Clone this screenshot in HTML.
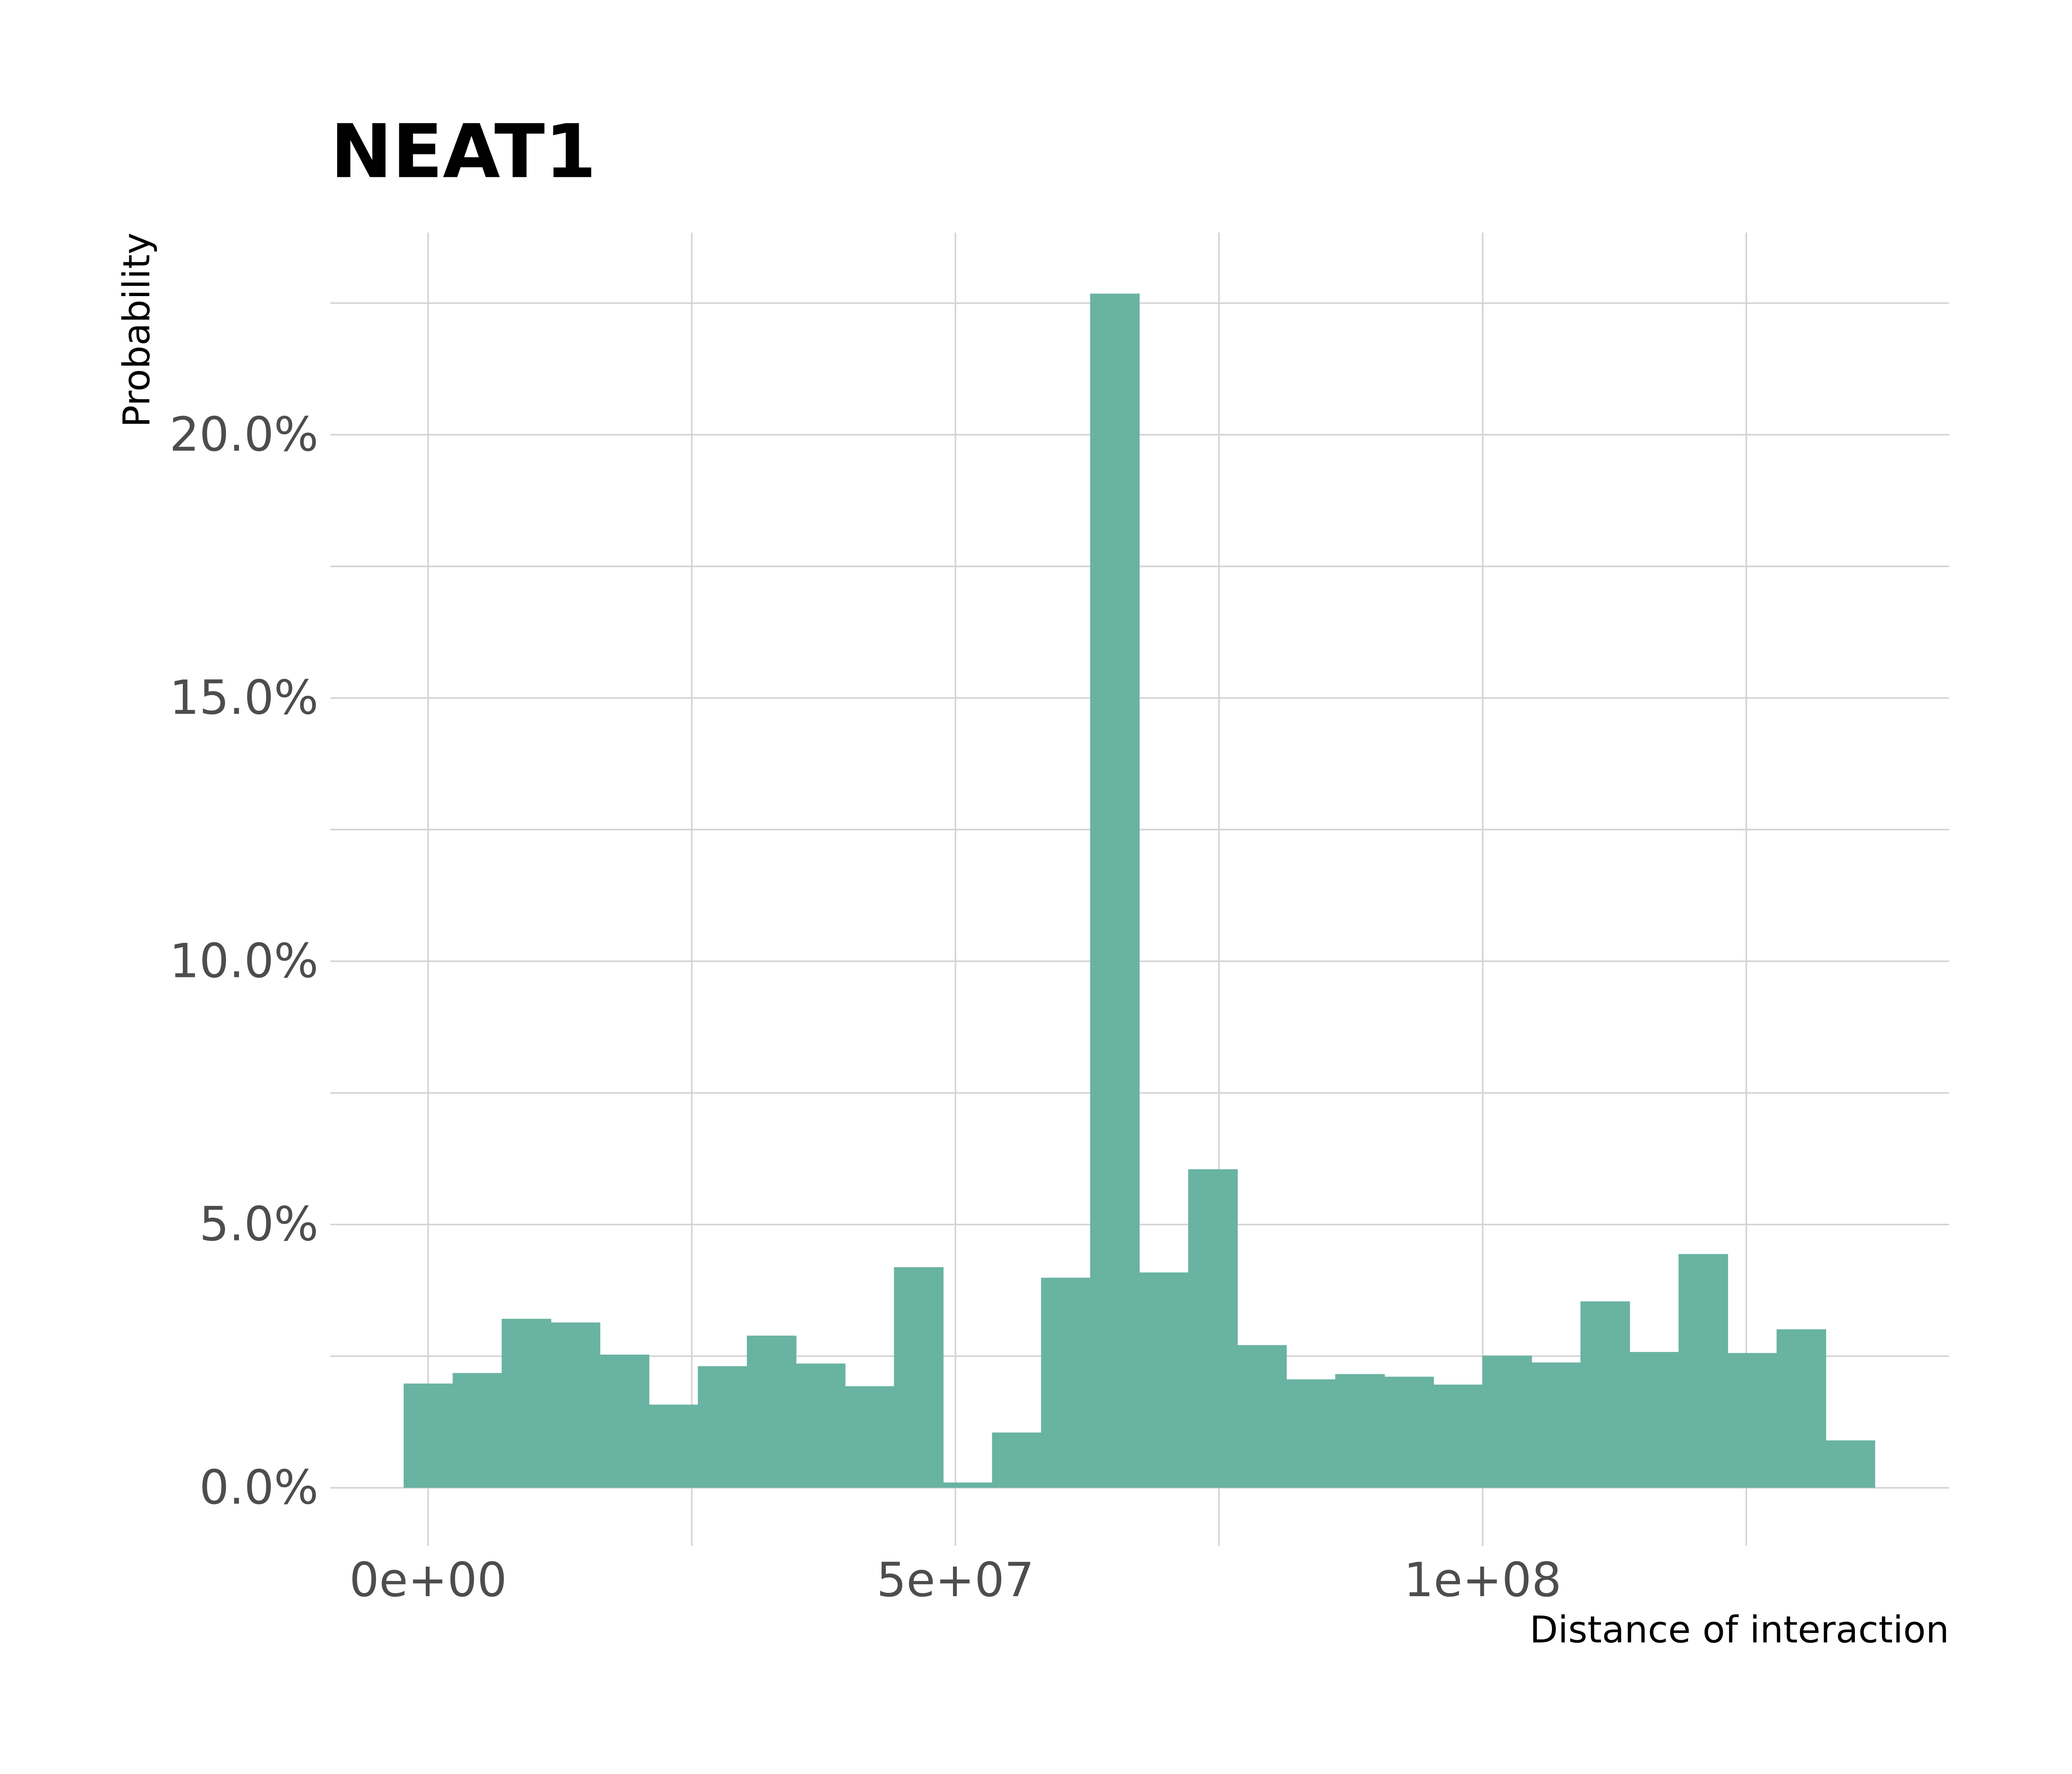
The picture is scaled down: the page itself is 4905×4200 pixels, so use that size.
<!DOCTYPE html>
<html><head><meta charset="utf-8"><style>html,body{margin:0;padding:0;background:#fff}svg{display:block}</style></head>
<body>
<svg id="chart" width="4905" height="4200" viewBox="0 0 1568 1342.6" xmlns="http://www.w3.org/2000/svg" font-family="'DejaVu Sans','Liberation Sans',sans-serif">
<rect width="1568" height="1342.6" fill="#fff"/>
<text x="250" y="134" font-size="56" font-weight="bold" fill="#000">NEAT1</text>
<g id="grid"></g>
<g id="bars"></g>
<g id="labels"></g>
<text x="1475" y="1243" font-size="27.9" text-anchor="end" fill="#000">Distance of interaction</text>
<text transform="translate(113,176) rotate(-90)" font-size="27.9" text-anchor="end" fill="#000">Probability</text>
</svg>
<script>
const binCenters = [0,1,2,3,4,5,6,7,8,9,10,11,12,13,14,15,16,17,18,19,20,21,22,23,24,25,26,27,28,29];
const probabilities = [1.98,2.18,3.21,3.14,2.53,1.58,2.31,2.89,2.36,1.93,4.19,0.10,1.05,3.99,22.68,4.09,6.05,2.71,2.06,2.16,2.11,1.96,2.51,2.38,3.54,2.58,4.44,2.56,3.01,0.90];
const binWidth = 4.65e6;
const yTicks = [0,5,10,15,20];
const yTickLabels = ["0.0%","5.0%","10.0%","15.0%","20.0%"];
const xTicks = [0,5e7,1e8];
const xTickLabels = ["0e+00","5e+07","1e+08"];

const NS="http://www.w3.org/2000/svg";
const X = v => 324 + (v/5e7)*399;
const Y = p => 1126 - p*39.85;
function mk(tag, attrs, parent){const e=document.createElementNS(NS,tag);for(const k in attrs)e.setAttribute(k,attrs[k]);parent.appendChild(e);return e;}
const grid=document.getElementById('grid'), bars=document.getElementById('bars'), labels=document.getElementById('labels');
for(let p=0;p<=22.5;p+=2.5){
  const l=mk('line',{x1:250,x2:1475,y1:Y(p),y2:Y(p),stroke:'#d4d4d4','stroke-width':1.2},grid);
  
  
}
for(let v=0;v<=1.25e8;v+=2.5e7){
  const l=mk('line',{x1:X(v),x2:X(v),y1:176,y2:1170,stroke:'#d4d4d4','stroke-width':1.2},grid);
  
  
}
binCenters.forEach((b,i)=>{
  const c=b*binWidth;
  const x0=X(c-binWidth/2), x1=X(c+binWidth/2);
  const r=mk('rect',{x:x0,y:Y(probabilities[i]),width:x1-x0+0.4,height:Y(0)-Y(probabilities[i]),fill:'#69b3a2'},bars);
  
  
});
yTicks.forEach((t,i)=>{
  const e=mk('text',{x:241,y:Y(t)+12,'font-size':35.5,'text-anchor':'end',fill:'#4d4d4d'},labels);
  e.textContent=yTickLabels[i];
  
  
});
xTicks.forEach((t,i)=>{
  const e=mk('text',{x:X(t),y:1208,'font-size':35.5,'text-anchor':'middle',fill:'#4d4d4d'},labels);
  e.textContent=xTickLabels[i];
  
  
});
</script>
</body></html>
